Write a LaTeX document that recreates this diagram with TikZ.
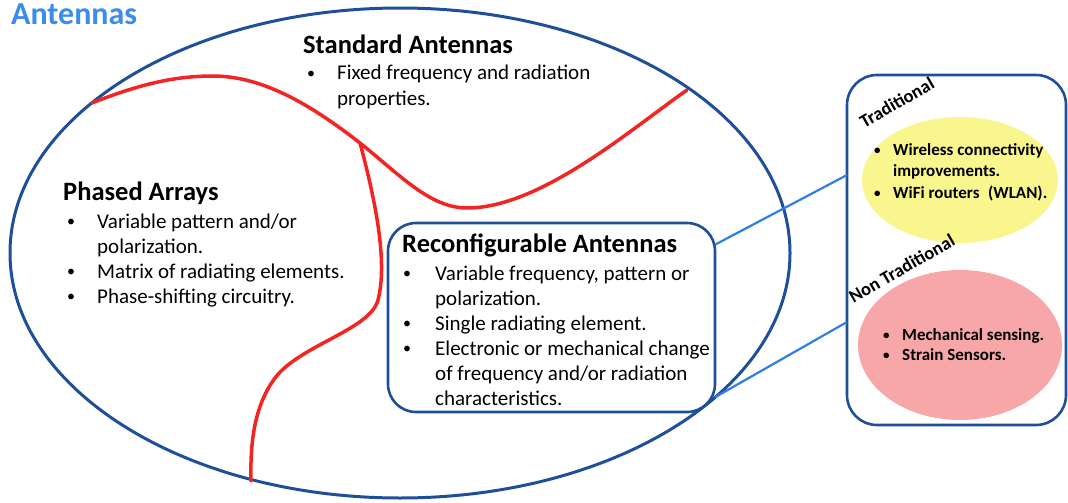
\documentclass[tikz,border=0pt]{standalone}
\usepackage{fontspec}
\setmainfont{Carlito}
\usetikzlibrary{shapes.geometric}
\definecolor{darkblue}{HTML}{1F4E9A}
\definecolor{lineblue}{HTML}{2E7FDE}
\definecolor{titleblue}{HTML}{3C8DEB}
\definecolor{redline}{HTML}{F22424}
\definecolor{paleyellow}{HTML}{FAF68E}
\definecolor{palepink}{HTML}{F7A7A7}
\newcommand\bigbul{\makebox[30pt][l]{\raisebox{1.5pt}{\fontsize{16}{16}\selectfont •}}}
\newcommand\bigind{\hspace*{30pt}}
\newcommand\smallbul{\makebox[19pt][l]{\raisebox{1pt}{\fontsize{13}{13}\selectfont •}}}
\newcommand\smallind{\hspace*{19pt}}
\tikzset{
  ttl/.style={anchor=base west, inner sep=0pt, font=\bfseries\fontsize{26.5}{30}\selectfont},
  body/.style={anchor=base west, inner sep=0pt, font=\fontsize{21}{25}\selectfont},
  smalltxt/.style={anchor=base west, inner sep=0pt, font=\bfseries\fontsize{17}{21.5}\selectfont},
  tag/.style={anchor=base, inner sep=0pt, rotate=30, font=\bfseries\fontsize{18.5}{20}\selectfont},
  outline/.style={draw=darkblue, line width=3pt},
  divider/.style={draw=redline, line width=3.5pt},
  link/.style={draw=lineblue, line width=2.2pt},
}
\begin{document}
\begin{tikzpicture}[x=1pt, y=-1pt]
\useasboundingbox (0,0) rectangle (1068,503);

% big ellipse
\node[ellipse, outline, minimum width=780pt, minimum height=490pt, inner sep=0pt, outer sep=0pt] (ant) at (400,253) {};

% title
\node[anchor=base west, inner sep=0pt, text=titleblue, font=\bfseries\fontsize{32}{36}\selectfont] (title) at (11,25) {Antennas};

% red dividers
\coordinate (pL) at (92,103);
\coordinate (pPeak) at (213,76);
\coordinate (pJ) at (360,143);
\coordinate (pDip) at (467,208);
\coordinate (pR) at (687,90);
\coordinate (pB1) at (378,300);
\coordinate (pB2) at (275,378);
\coordinate (pBot) at (251,481);
\draw[divider, line cap=round] (pL) .. controls (140,84) and (175,76) .. (pPeak)
  .. controls (265,76) and (315,108) .. (pJ)
  .. controls (400,175) and (430,208) .. (pDip)
  .. controls (540,208) and (630,130) .. (pR);
\draw[divider, line cap=round] (pJ) .. controls (378,210) and (387,265) .. (pB1)
  .. controls (370,330) and (300,345) .. (pB2)
  .. controls (255,405) and (250,440) .. (pBot);

% Standard antennas
\node[ttl] (stT) at (303,53) {Standard Antennas};
\node[body] (stL) at (307,80) {\begin{tabular}[t]{@{}l@{}}
\bigbul Fixed frequency and radiation\\
\bigind properties.
\end{tabular}};

% Phased arrays
\node[ttl] (phT) at (63,200) {Phased Arrays};
\node[body] (phL) at (67,228) {\begin{tabular}[t]{@{}l@{}}
\bigbul Variable pattern and/or\\
\bigind polarization.\\
\bigbul Matrix of radiating elements.\\
\bigbul Phase-shifting circuitry.
\end{tabular}};

% Reconfigurable box
\node[draw=darkblue, line width=2.6pt, rounded corners=28pt, fill=white, minimum width=327pt, minimum height=189pt, inner sep=0pt, outer sep=0pt] (rec) at (551.5,317.5) {};
\node[ttl] (reT) at (402,252) {Reconfigurable Antennas};
\node[body] (reL) at (403,280) {\begin{tabular}[t]{@{}l@{}}
\makebox[32pt][l]{\raisebox{1.5pt}{\fontsize{16}{16}\selectfont •}}Variable frequency, pattern or\\
\hspace*{32pt}polarization.\\
\makebox[32pt][l]{\raisebox{1.5pt}{\fontsize{16}{16}\selectfont •}}Single radiating element.\\
\makebox[32pt][l]{\raisebox{1.5pt}{\fontsize{16}{16}\selectfont •}}Electronic or mechanical change\\
\hspace*{32pt}of frequency and/or radiation\\
\hspace*{32pt}characteristics.
\end{tabular}};

% right box
\node[draw=darkblue, line width=2.6pt, rounded corners=30pt, minimum width=219pt, minimum height=350pt, inner sep=0pt, outer sep=0pt] (apps) at (956.5,250) {};
\node[ellipse, fill=paleyellow, minimum width=196pt, minimum height=126pt, inner sep=0pt] (trad) at (960,180) {};
\node[ellipse, fill=palepink, minimum width=204pt, minimum height=150pt, inner sep=0pt] (nontrad) at (960,345) {};

\node[tag] (tradT) at (900,108) {Traditional};
\node[tag] (nontradT) at (905,274) {Non Traditional};

\node[smalltxt] (tL) at (874,155) {\begin{tabular}[t]{@{}l@{}}
\smallbul Wireless connectivity\\
\smallind improvements.\\
\smallbul WiFi routers\enspace(WLAN).
\end{tabular}};

\node[smalltxt, font=\bfseries\fontsize{17}{20}\selectfont] (nL) at (883,340) {\begin{tabular}[t]{@{}l@{}}
\smallbul Mechanical sensing.\\
\smallbul Strain Sensors.
\end{tabular}};

% connectors
\draw[link] (rec.24) -- ([yshift=75pt]apps.west);
\draw[link] (rec.-26) -- ([yshift=-72pt]apps.west);
\end{tikzpicture}
\end{document}
